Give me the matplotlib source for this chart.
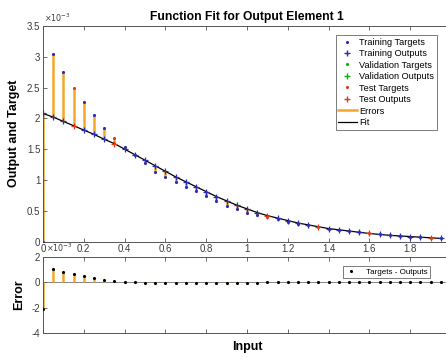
import matplotlib
matplotlib.use('Agg')
import matplotlib.pyplot as plt
from matplotlib.lines import Line2D

plt.rcParams['font.family'] = ['Liberation Sans', 'DejaVu Sans']

# ---- data (values in units of 1e-3) ----
inputs = [0.00, 0.05, 0.10, 0.15, 0.20, 0.25, 0.30, 0.35, 0.40, 0.45,
          0.50, 0.55, 0.60, 0.65, 0.70, 0.75, 0.80, 0.85, 0.90, 0.95,
          1.00, 1.05, 1.10, 1.15, 1.20, 1.25, 1.30, 1.35, 1.40, 1.45,
          1.50, 1.55, 1.60, 1.65, 1.70, 1.75, 1.80, 1.85, 1.90, 1.95]
outputs = [2.08, 2.02, 1.95, 1.88, 1.81, 1.74, 1.66, 1.59, 1.50, 1.41,
           1.32, 1.23, 1.14, 1.05, 0.97, 0.89, 0.81, 0.73, 0.66, 0.59,
           0.53, 0.47, 0.42, 0.38, 0.34, 0.30, 0.27, 0.24, 0.21, 0.19,
           0.17, 0.15, 0.13, 0.115, 0.10, 0.09, 0.08, 0.07, 0.06, 0.05]
targets = [0.00, 3.04, 2.76, 2.50, 2.26, 2.05, 1.85, 1.68, 1.53, 1.41,
           1.27, 1.13, 1.05, 0.97, 0.89, 0.82, 0.74, 0.66, 0.58, 0.52,
           0.47, 0.43, 0.40, 0.36, 0.32, 0.29, 0.26, 0.235, 0.21, 0.19,
           0.17, 0.15, 0.13, 0.115, 0.10, 0.09, 0.08, 0.07, 0.06, 0.05]
test_inputs = [0.15, 0.35, 1.10, 1.35, 1.60, 1.90]
validation_inputs = []

xticks = [0, 0.2, 0.4, 0.6, 0.8, 1, 1.2, 1.4, 1.6, 1.8, 2]
xticklabels = ['0', '0.2', '0.4', '0.6', '0.8', '1', '1.2', '1.4', '1.6', '1.8', '']
yticks_top = [0, 0.5, 1, 1.5, 2, 2.5, 3, 3.5]
yticklabels_top = ['0', '0.5', '1', '1.5', '2', '2.5', '3', '3.5']
yticks_err = [-4, -2, 0, 2]
yticklabels_err = ['-4', '-2', '0', '2']

errors = [t - o for t, o in zip(targets, outputs)]

def membership(names):
    return [any(abs(x - n) < 1e-9 for n in names) for x in inputs]

is_test = membership(test_inputs)
is_val = membership(validation_inputs)
is_train = [not a and not b for a, b in zip(is_test, is_val)]

C_TRAIN = '#2c2cb4'
C_VAL = '#10b010'
C_TEST = '#e03a1a'
C_ERR = '#f4a72c'
TXT = '#3c3c3c'

W, H = 446, 353
fig = plt.figure(figsize=(W / 100, H / 100), dpi=100)

def fx(px):
    return px / W

def fy(py):
    return 1 - py / H

ax1 = fig.add_axes([fx(43), fy(241.5), fx(451) - fx(43), fy(26) - fy(241.5)])
ax2 = fig.add_axes([fx(43), fy(333), fx(451) - fx(43), fy(256.7) - fy(333)])

# --- top plot ---
ax1.vlines(inputs, outputs, targets, color=C_ERR, lw=1.8, zorder=1)
ax1.plot(inputs, outputs, color='black', lw=0.9, zorder=2)
for mask, c in [(is_train, C_TRAIN), (is_val, C_VAL), (is_test, C_TEST)]:
    xs = [x for x, m in zip(inputs, mask) if m]
    ts = [t for t, m in zip(targets, mask) if m]
    os_ = [o for o, m in zip(outputs, mask) if m]
    ax1.plot(xs, ts, '.', color=c, ms=2.5, zorder=3)
    ax1.plot(xs, os_, '+', color=c, ms=4.5, mew=0.9, zorder=4)

ax1.set_xlim(0, 2)
ax1.set_ylim(0, 3.5)
ax1.set_xticks(xticks)
ax1.set_xticklabels(xticklabels)
ax1.set_yticks(yticks_top)
ax1.set_yticklabels(yticklabels_top)
ax1.set_title('Function Fit for Output Element 1', fontsize=8.7, fontweight='bold', pad=4)
ax1.set_ylabel('Output and Target', fontsize=9, fontweight='bold', labelpad=5)

handles = [
    Line2D([], [], ls='none', marker='.', color=C_TRAIN, ms=2.5),
    Line2D([], [], ls='none', marker='+', color=C_TRAIN, ms=4.5),
    Line2D([], [], ls='none', marker='.', color=C_VAL, ms=2.5),
    Line2D([], [], ls='none', marker='+', color=C_VAL, ms=4.5),
    Line2D([], [], ls='none', marker='.', color=C_TEST, ms=2.5),
    Line2D([], [], ls='none', marker='+', color=C_TEST, ms=4.5),
    Line2D([], [], color=C_ERR, lw=1.8),
    Line2D([], [], color='black', lw=0.9),
]
labels = ['Training Targets', 'Training Outputs', 'Validation Targets',
          'Validation Outputs', 'Test Targets', 'Test Outputs', 'Errors', 'Fit']
leg = ax1.legend(handles, labels, loc='upper right',
                 bbox_to_anchor=(fx(437), fy(35)), bbox_transform=fig.transFigure,
                 fontsize=6.6, frameon=True, fancybox=False, edgecolor='#5a5a5a',
                 borderaxespad=0, borderpad=0.3, labelspacing=0.27,
                 handlelength=2.0, handletextpad=0.3)
leg.get_frame().set_linewidth(0.7)

# --- error plot ---
ax2.axhline(0, color='#707070', lw=0.6, zorder=1)
ax2.vlines(inputs, [0] * len(errors), errors, color=C_ERR, lw=1.8, zorder=2)
ax2.plot(inputs, errors, '.', color='black', ms=2.5, zorder=3)
ax2.set_xlim(0, 2)
ax2.set_ylim(-4, 2)
ax2.set_xticks(xticks)
ax2.set_xticklabels([])
ax2.set_yticks(yticks_err)
ax2.set_yticklabels(yticklabels_err)
ax2.set_xlabel('Input', fontsize=9, fontweight='bold', labelpad=4)
ax2.set_ylabel('Error', fontsize=9, fontweight='bold', labelpad=5)
leg2 = ax2.legend([Line2D([], [], ls='none', marker='.', color='black', ms=2.5)],
                  ['Targets - Outputs'], loc='upper right',
                  bbox_to_anchor=(fx(430), fy(266)), bbox_transform=fig.transFigure,
                  fontsize=5.8, frameon=True, fancybox=False, edgecolor='#5a5a5a',
                  borderaxespad=0, borderpad=0.3, handlelength=1.6, handletextpad=1.0)
leg2.get_frame().set_linewidth(0.7)

for ax in (ax1, ax2):
    ax.tick_params(direction='in', length=3, width=0.6, labelsize=7,
                   colors='#555555', labelcolor=TXT, top=True, right=False, pad=2)
    for s in ax.spines.values():
        s.set_color('#555555')
        s.set_linewidth(0.7)

fig.text(fx(44), fy(18), r'$\times10^{-3}$', fontsize=5.8, color=TXT, va='center', ha='left')
fig.text(fx(46), fy(248), r'$\times10^{-3}$', fontsize=5.8, color=TXT, va='center', ha='left')

fig.savefig('out.png', dpi=100)
